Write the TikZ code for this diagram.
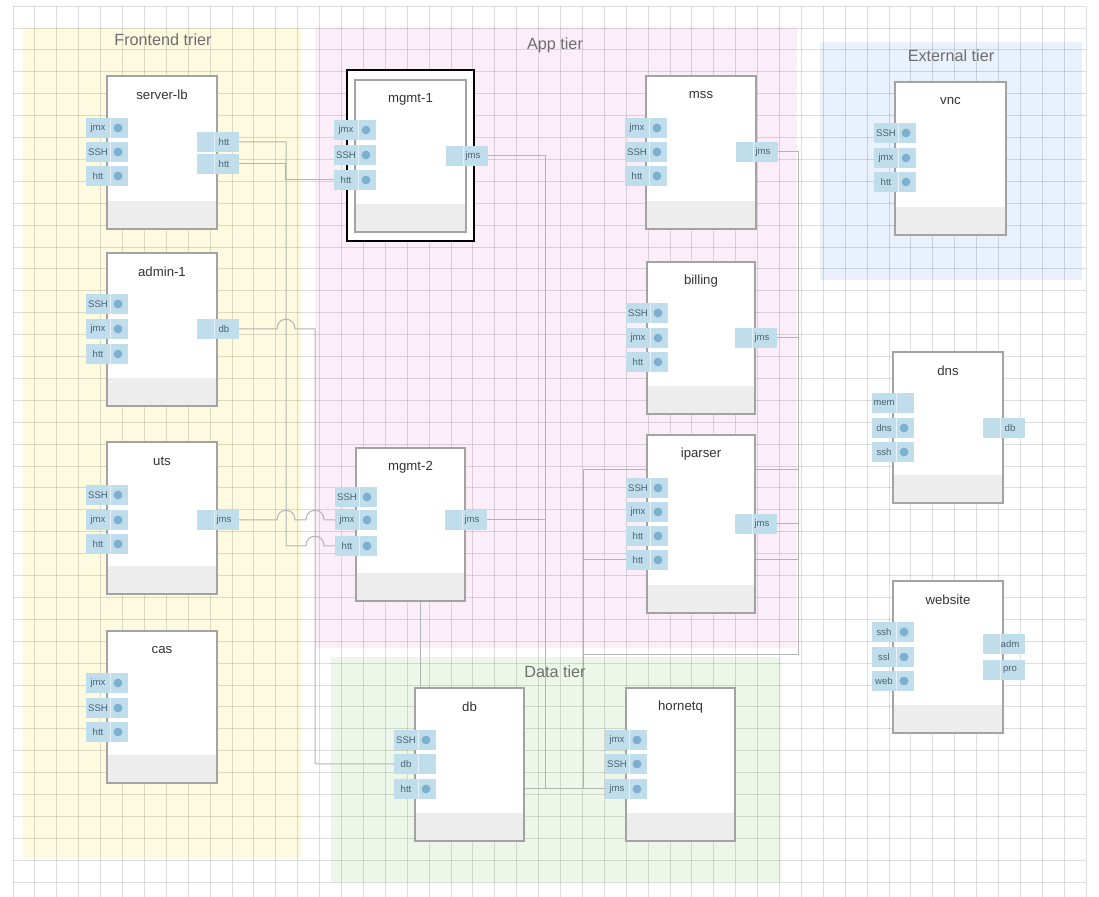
\documentclass[tikz,border=0pt]{standalone}
\usepackage{fontspec}
\setmainfont{Liberation Sans}
\usetikzlibrary{calc}
\definecolor{yellowt}{HTML}{FDFADF}
\definecolor{pinkt}{HTML}{FBEEF9}
\definecolor{bluet}{HTML}{E8F1FC}
\definecolor{greent}{HTML}{EDF7E9}
\definecolor{portblue}{HTML}{C0DDEC}
\definecolor{dotblue}{HTML}{7DB0D0}
\definecolor{boxline}{HTML}{A3A3A3}
\definecolor{bandgrey}{HTML}{EDEDED}
\definecolor{connline}{HTML}{B3B3B3}
\definecolor{tiertext}{HTML}{6E6E6E}
\definecolor{titletext}{HTML}{333333}
\definecolor{porttext}{HTML}{4D6373}
\pgfdeclarelayer{tierlayer}
\pgfdeclarelayer{gridlayer}
\pgfdeclarelayer{connlayer}
\pgfsetlayers{tierlayer,gridlayer,connlayer,main}
\tikzset{
  srvbox/.style={draw=boxline, line width=0.8pt, fill=white, inner sep=0pt, outer sep=0pt},
  bandfill/.style={fill=bandgrey},
  boxtitle/.style={inner sep=0pt, text=titletext, font=\fontsize{6.6}{8}\selectfont},
  tierlabel/.style={inner sep=0pt, text=tiertext, font=\fontsize{8.1}{9}\selectfont},
  portbox/.style={fill=portblue, inner sep=0pt, outer sep=0pt, minimum width=21pt, minimum height=10pt},
  portlabel/.style={inner sep=0pt, text=porttext, font=\fontsize{4.8}{5}\selectfont},
  portdot/.style={circle, fill=dotblue, inner sep=0pt, minimum size=4.4pt},
  portsep/.style={draw=white, opacity=0.6, line width=0.35pt},
  gridline/.style={draw=black, opacity=0.13, line width=0.5pt},
  conn/.style={draw=connline, line width=0.5pt},
  selframe/.style={draw=black, line width=1.4pt, fill=white, inner sep=0pt, outer sep=0pt}
}
% name, x1, y1, x2, y2, title
\newcommand{\srv}[6]{%
  \node[srvbox, minimum width={(#4-#2)*0.5pt}, minimum height={(#5-#3)*0.5pt}] (#1) at ({(#2+#4)/2},{(#3+#5)/2}) {};
  \fill[bandfill] ({#2+0.8},{#5-28}) rectangle ({#4-0.8},{#5-0.8});
  \node[boxtitle] (#1-t) at ({(#2+#4)/2},{#3+19}) {#6};
}
% left port: name, box left x, y, label
\newcommand{\lp}[4]{%
  \node[portbox] (#1) at ({#2},{#3}) {};
  \draw[portsep] ({#2+3},{#3-10}) -- ({#2+3},{#3+10});
  \node[portlabel] (#1-x) at ({#2-9},{#3}) {#4};
  \node[portdot] (#1-o) at ({#2+11},{#3}) {};
}
% left port without dot
\newcommand{\lpn}[4]{%
  \node[portbox] (#1) at ({#2},{#3}) {};
  \draw[portsep] ({#2+3},{#3-10}) -- ({#2+3},{#3+10});
  \node[portlabel] (#1-x) at ({#2-9},{#3}) {#4};
}
% right port: name, box right x, y, label
\newcommand{\rp}[4]{%
  \node[portbox] (#1) at ({#2+1},{#3}) {};
  \draw[portsep] ({#2-3},{#3-10}) -- ({#2-3},{#3+10});
  \node[portlabel] (#1-x) at ({#2+7},{#3}) {#4};
}
\begin{document}
\begin{tikzpicture}[x=0.5pt, y=-0.5pt]
\useasboundingbox (0,0) rectangle (1099,897);
% tiers
\begin{pgfonlayer}{tierlayer}
  \fill[white] (0,0) rectangle (1099,897);
  \fill[yellowt] (23,27) rectangle (301,858);
  \fill[pinkt] (315,27) rectangle (797,648);
  \fill[bluet] (820,42) rectangle (1082,280);
  \fill[greent] (331,657) rectangle (781,882);
\end{pgfonlayer}
\begin{pgfonlayer}{gridlayer}
  \foreach \i in {0,...,49} {\draw[gridline] ({13+21.9*\i},6.2) -- ({13+21.9*\i},897);}
  \foreach \j in {0,...,40} {\draw[gridline] (13,{6.2+21.9*\j}) -- (1086.1,{6.2+21.9*\j});}
\end{pgfonlayer}
% tier labels
\node[tierlabel] (tfront) at (163,40) {Frontend trier};
\node[tierlabel] (tapp) at (555,45) {App tier};
\node[tierlabel] (text) at (951,56) {External tier};
\node[tierlabel] (tdata) at (555,672) {Data tier};
% selection frame of mgmt-1
\node[selframe, minimum width=63.5pt, minimum height=85.5pt] (m1f) at (410.5,155.5) {};
% boxes
\srv{slb}{107}{76}{217}{229}{server-lb}
\srv{adm}{107}{253}{217}{406}{admin-1}
\srv{uts}{107}{442}{217}{594}{uts}
\srv{cas}{107}{631}{217}{783}{cas}
\srv{m1}{355}{80}{466}{232}{mgmt-1}
\srv{m2}{356}{448}{465}{601}{mgmt-2}
\srv{mss}{646}{76}{756}{229}{mss}
\srv{bil}{647}{262}{755}{414}{billing}
\srv{ipa}{647}{435}{755}{613}{iparser}
\srv{vnc}{895}{82}{1006}{235}{vnc}
\srv{dns}{893}{352}{1003}{503}{dns}
\srv{web}{893}{581}{1003}{733}{website}
\srv{db}{415}{688}{524}{841}{db}
\srv{hq}{626}{688}{735}{841}{hornetq}
% ports
\lp{slb-l1}{107}{128}{jmx}
\lp{slb-l2}{107}{152}{SSH}
\lp{slb-l3}{107}{176}{htt}
\rp{slb-r1}{217}{142}{htt}
\rp{slb-r2}{217}{164}{htt}
\lp{adm-l1}{107}{304}{SSH}
\lp{adm-l2}{107}{329}{jmx}
\lp{adm-l3}{107}{354}{htt}
\rp{adm-r1}{217}{329}{db}
\lp{uts-l1}{107}{495}{SSH}
\lp{uts-l2}{107}{520}{jmx}
\lp{uts-l3}{107}{544}{htt}
\rp{uts-r1}{217}{520}{jms}
\lp{cas-l1}{107}{683}{jmx}
\lp{cas-l2}{107}{708}{SSH}
\lp{cas-l3}{107}{732}{htt}
\lp{m1-l1}{355}{130}{jmx}
\lp{m1-l2}{355}{155}{SSH}
\lp{m1-l3}{355}{180}{htt}
\rp{m1-r1}{466}{156}{jms}
\lp{m2-l1}{356}{497}{SSH}
\lp{m2-l2}{356}{520}{jmx}
\lp{m2-l3}{356}{546}{htt}
\rp{m2-r1}{465}{520}{jms}
\lp{mss-l1}{646}{128}{jmx}
\lp{mss-l2}{646}{152}{SSH}
\lp{mss-l3}{646}{176}{htt}
\rp{mss-r1}{756}{152}{jms}
\lp{bil-l1}{647}{313}{SSH}
\lp{bil-l2}{647}{338}{jmx}
\lp{bil-l3}{647}{362}{htt}
\rp{bil-r1}{755}{338}{jms}
\lp{ipa-l1}{647}{488}{SSH}
\lp{ipa-l2}{647}{512}{jmx}
\lp{ipa-l3}{647}{536}{htt}
\lp{ipa-l4}{647}{560}{htt}
\rp{ipa-r1}{755}{524}{jms}
\lp{vnc-l1}{895}{133}{SSH}
\lp{vnc-l2}{895}{158}{jmx}
\lp{vnc-l3}{895}{182}{htt}
\lpn{dns-l1}{893}{403}{mem}
\lp{dns-l2}{893}{428}{dns}
\lp{dns-l3}{893}{452}{ssh}
\rp{dns-r1}{1003}{428}{db}
\lp{web-l1}{893}{632}{ssh}
\lp{web-l2}{893}{657}{ssl}
\lp{web-l3}{893}{681}{web}
\rp{web-r1}{1003}{644}{adm}
\rp{web-r2}{1003}{670}{pro}
\lp{db-l1}{415}{740}{SSH}
\lpn{db-l2}{415}{764}{db}
\lp{db-l3}{415}{789}{htt}
\lp{hq-l1}{626}{740}{jmx}
\lp{hq-l2}{626}{764}{SSH}
\lp{hq-l3}{626}{789}{jms}
% connectors
\coordinate (c420) at (420,0);
\begin{pgfonlayer}{connlayer}
  \draw[conn] (slb-r1.east) -- (286,142) -- (286,546) -- (306,546) .. controls (306,533) and (324,533) .. (324,546) -- (m2-l3.west);
  \draw[conn] (slb-r2.east) -- (285,164) -- (285,180) -- (m1-l3.west);
  \draw[conn] (adm-r1.east) -- (277,329) .. controls (277,316) and (295,316) .. (295,329) -- (315,329) -- (315,764) -- (db-l2.west);
  \draw[conn] (uts-r1.east) -- (277,520) .. controls (277,507) and (295,507) .. (295,520) -- (306,520) .. controls (306,507) and (324,507) .. (324,520) -- (m2-l2.west);
  \draw[conn] (m1-r1.east) -- (545,156) -- (545,789);
  \draw[conn] (m2-r1.east) -- (545,520);
  \draw[conn] (db.east |- hq-l3.west) -- (hq-l3.west);
  \draw[conn] (mss-r1.east) -- (798,152) -- (798,655) -- (583,655);
  \draw[conn] (bil-r1.east) -- (798,338);
  \draw[conn] (ipa-r1.east) -- (798,524);
  \draw[conn] (583,789) -- (583,470) -- (798,470);
  \draw[conn] (ipa-l4.west) -- (583,560);
  \draw[conn] (ipa.east |- ipa-l4.west) -- (798,560);
  \draw[conn] (m2.south -| c420) -- (db.north -| c420);
\end{pgfonlayer}
\end{tikzpicture}
\end{document}
